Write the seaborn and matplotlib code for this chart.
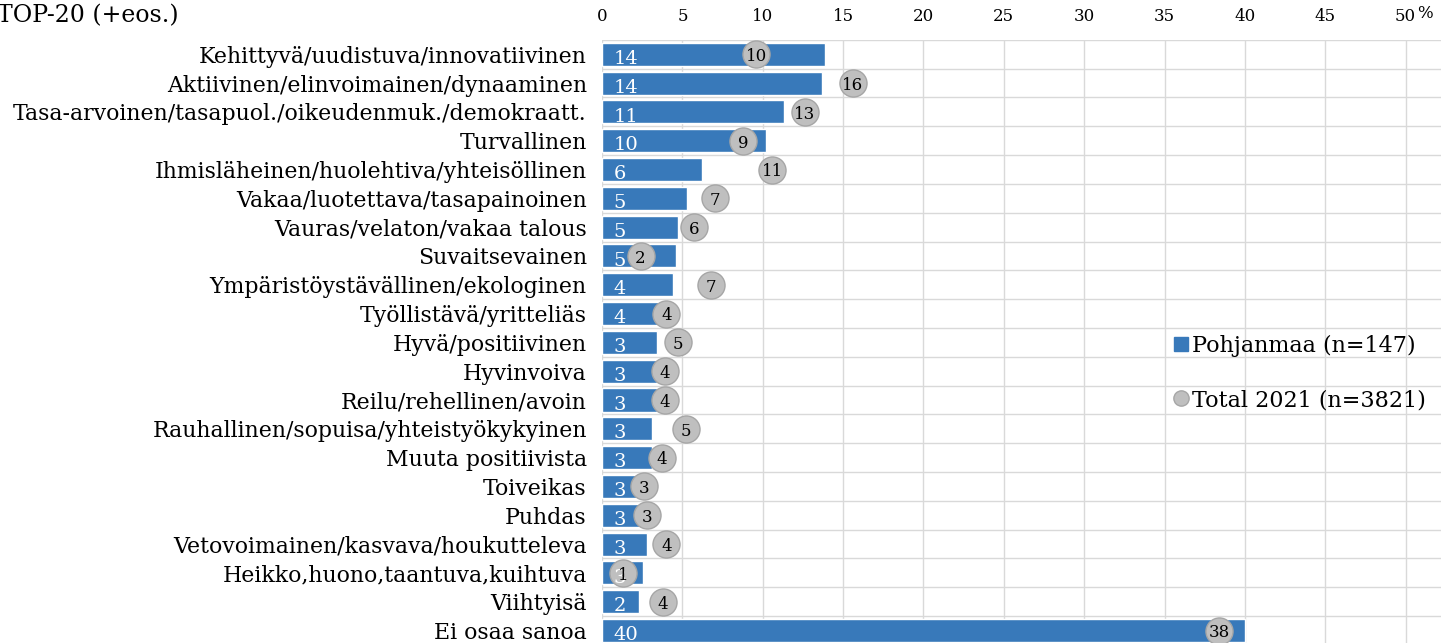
import numpy as np
import pandas as pd
import matplotlib
matplotlib.use("Agg")
import matplotlib.pyplot as plt
from matplotlib.lines import Line2D
from matplotlib.ticker import FixedLocator
import seaborn as sns

categories = [
    "Kehittyvä/uudistuva/innovatiivinen",
    "Aktiivinen/elinvoimainen/dynaaminen",
    "Tasa-arvoinen/tasapuol./oikeudenmuk./demokraatt.",
    "Turvallinen",
    "Ihmisläheinen/huolehtiva/yhteisöllinen",
    "Vakaa/luotettava/tasapainoinen",
    "Vauras/velaton/vakaa talous",
    "Suvaitsevainen",
    "Ympäristöystävällinen/ekologinen",
    "Työllistävä/yritteliäs",
    "Hyvä/positiivinen",
    "Hyvinvoiva",
    "Reilu/rehellinen/avoin",
    "Rauhallinen/sopuisa/yhteistyökykyinen",
    "Muuta positiivista",
    "Toiveikas",
    "Puhdas",
    "Vetovoimainen/kasvava/houkutteleva",
    "Heikko,huono,taantuva,kuihtuva",
    "Viihtyisä",
    "Ei osaa sanoa",
]
pohjanmaa = [13.9, 13.7, 11.3, 10.2, 6.2, 5.3, 4.7, 4.6, 4.4, 4.4, 3.4, 3.4, 3.4,
             3.1, 3.1, 3.1, 3.1, 2.8, 2.55, 2.3, 40.0]
total_2021 = [9.6, 15.6, 12.6, 8.8, 10.6, 7.0, 5.7, 2.4, 6.8, 4.0, 4.7, 3.9, 3.9,
              5.2, 3.7, 2.6, 2.8, 4.0, 1.3, 3.8, 38.4]
x_ticks = [0, 5, 10, 15, 20, 25, 30, 35, 40, 45, 50]

df = pd.DataFrame({"kategoria": categories, "Pohjanmaa": pohjanmaa, "Total": total_2021})

sns.set_theme(style="white")
plt.rcParams["font.family"] = ["DejaVu Serif"]
plt.rcParams["text.color"] = "black"
plt.rcParams["xtick.color"] = "black"
plt.rcParams["ytick.color"] = "black"

blue = "#3879BA"
grey = "#BFBFBF"

fig = plt.figure(figsize=(14.41, 6.43), dpi=100)
ax = fig.add_axes([0.4178, -0.003, 0.5822, 0.941])

sns.barplot(data=df, y="kategoria", x="Pohjanmaa", order=categories, orient="h",
            color=blue, saturation=1, width=0.8, ax=ax, zorder=2)
sns.scatterplot(data=df, y="kategoria", x="Total", color=grey, edgecolor="#A6A6A6",
                linewidth=1, s=380, ax=ax, zorder=3, legend=False)

# arvot palkkien sisään ja palloihin
for i, (p, t) in enumerate(zip(pohjanmaa, total_2021)):
    ax.text(0.7, i + 0.16, f"{p:.0f}", color="white", fontsize=14,
            ha="left", va="center", zorder=4)
    ax.text(t, i + 0.08, f"{t:.0f}", color="black", fontsize=12,
            ha="center", va="center", zorder=5)

ax.set_xlim(0, 52.2)
ax.set_ylim(len(categories) - 0.5, -0.5)
ax.xaxis.tick_top()
ax.set_xticks(x_ticks)
ax.set_xticklabels([str(v) for v in x_ticks])
ax.tick_params(axis="x", length=0, pad=11, labelsize=12, colors="black")
ax.tick_params(axis="y", length=0, labelsize=15.8, pad=11, colors="black")
ax.set_xlabel("")
ax.set_ylabel("")

ax.yaxis.set_minor_locator(FixedLocator(np.arange(-0.5, len(categories), 1.0)))
ax.grid(axis="x", which="major", color="#D9D9D9", linewidth=1, zorder=0)
ax.grid(axis="y", which="minor", color="#D9D9D9", linewidth=1, zorder=0)
ax.set_axisbelow(True)
for s in ax.spines.values():
    s.set_visible(False)

fig.text(1425 / 1441, 1 - 14 / 643, "%", fontsize=12, ha="center", va="center")
fig.text(-0.002, 1 - 16 / 643, "TOP-20 (+eos.)", fontsize=17, ha="left", va="center")

handles = [
    Line2D([], [], marker="s", linestyle="", color=blue, markersize=10),
    Line2D([], [], marker="o", linestyle="", markerfacecolor=grey,
           markeredgecolor="#A6A6A6", markersize=11),
]
fig.legend(handles, ["Pohjanmaa (n=147)", "Total 2021 (n=3821)"],
           loc="upper left", bbox_to_anchor=(1162 / 1441, 1 - 326 / 643),
           frameon=False, fontsize=16, labelspacing=1.45, handletextpad=0.05,
           handlelength=0.9, borderaxespad=0)

fig.savefig("out.png", dpi=100)
